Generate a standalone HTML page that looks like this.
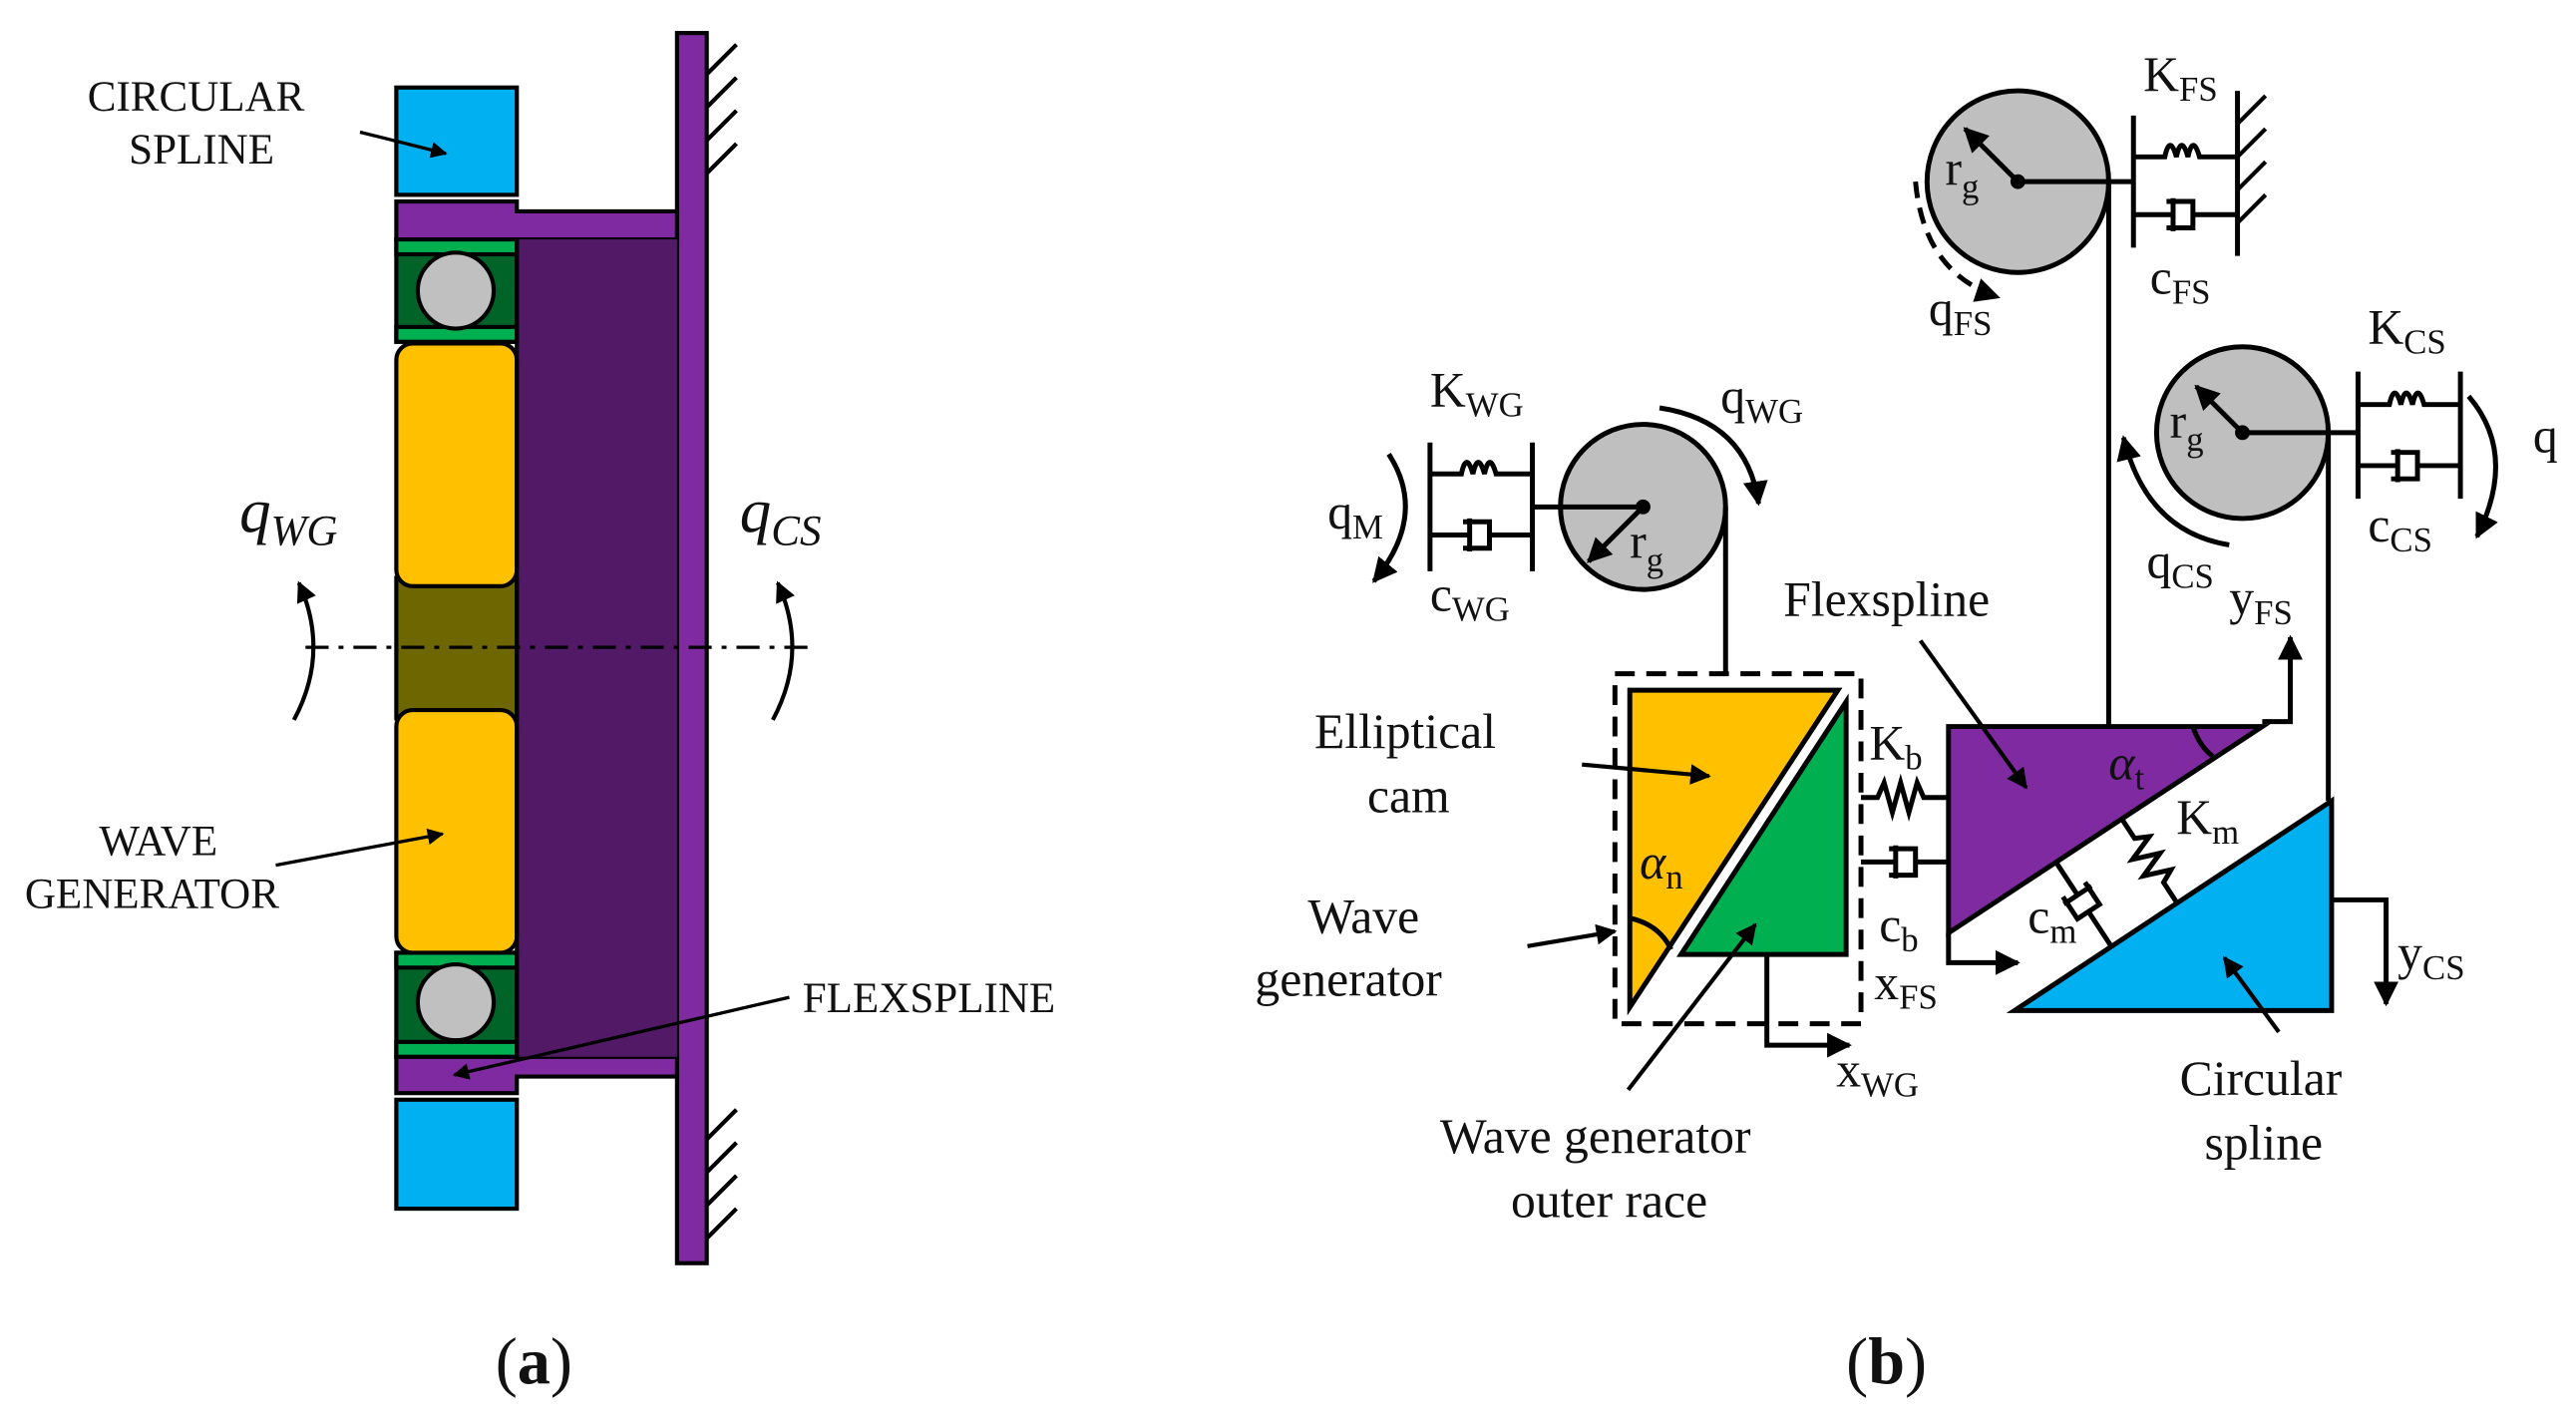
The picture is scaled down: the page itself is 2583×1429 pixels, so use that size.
<!DOCTYPE html>
<html><head><meta charset="utf-8"><style>
html,body{margin:0;padding:0;background:#fff}
svg{display:block}
text{font-family:"Liberation Serif",serif;fill:#111}
</style></head><body>
<svg width="2583" height="1429" viewBox="0 0 1560 863" preserveAspectRatio="none" xmlns="http://www.w3.org/2000/svg">
<defs>
<marker id="ah" viewBox="0 0 10 10" refX="9" refY="5" markerWidth="5" markerHeight="5" orient="auto-start-reverse"><path d="M0,0 L10,5 L0,10 z" fill="#000"/></marker>
</defs>
<g stroke="#000" stroke-width="2.5">
<!-- panel a -->
<rect x="410" y="20" width="18" height="745" fill="#7F2AA0"/>
<path d="M240,122 H313 V128 H410 V145 H240 Z" fill="#7F2AA0"/>
<path d="M240,640 H410 V652 H313 V662 H240 Z" fill="#7F2AA0"/>
<rect x="313" y="145" width="97" height="495" fill="#521A66" stroke="none"/>
<rect x="240" y="53" width="73" height="65" fill="#00B0F0"/>
<rect x="240" y="666" width="73" height="66" fill="#00B0F0"/>
<rect x="240" y="145" width="73" height="62" fill="#006428"/>
<rect x="240" y="145" width="73" height="9" fill="#00B050"/>
<rect x="240" y="198" width="73" height="9" fill="#00B050"/>
<circle cx="276" cy="176" r="23" fill="#C0C0C0"/>
<rect x="240" y="577" width="73" height="63" fill="#006428"/>
<rect x="240" y="577" width="73" height="9" fill="#00B050"/>
<rect x="240" y="631" width="73" height="9" fill="#00B050"/>
<circle cx="276" cy="607" r="23" fill="#C0C0C0"/>
<rect x="240" y="350" width="73" height="85" fill="#6E6600"/>
<rect x="240" y="208" width="73" height="147" rx="10" fill="#FFC000"/>
<rect x="240" y="430" width="73" height="147" rx="10" fill="#FFC000"/>
<line x1="313" y1="145" x2="313" y2="640"/>
<g stroke-width="2.5">
<line x1="428" y1="45" x2="446" y2="27"/><line x1="428" y1="65" x2="446" y2="47"/><line x1="428" y1="85" x2="446" y2="67"/><line x1="428" y1="105" x2="446" y2="87"/>
<line x1="428" y1="690" x2="446" y2="672"/><line x1="428" y1="710" x2="446" y2="692"/><line x1="428" y1="730" x2="446" y2="712"/><line x1="428" y1="750" x2="446" y2="732"/>
</g>
<line x1="185" y1="392" x2="495" y2="392" stroke-width="2" stroke-dasharray="14,6,3,6"/>
<path d="M178,436 Q200,395 181,353" fill="none" marker-end="url(#ah)"/>
<path d="M468,436 Q490,395 471,353" fill="none" marker-end="url(#ah)"/>
<line x1="166" y1="48" x2="212" y2="62" transform="translate(0,0)" stroke="none"/>
<line x1="168" y1="46" x2="0" y2="0" stroke="none"/>
<line x1="168" y1="48" x2="168" y2="48" stroke="none"/>
<line x1="166" y1="48" x2="166" y2="48" stroke="none"/>
<line x1="167" y1="48" x2="167" y2="48" stroke="none"/>
<line x1="167" y1="49" x2="167" y2="49" stroke="none"/>
<line x1="167" y1="49" x2="167" y2="49" stroke="none"/>
<line x1="167" y1="50" x2="167" y2="50" stroke="none"/>
<line x1="167" y1="50" x2="167" y2="50" stroke="none"/>
<line x1="167" y1="50" x2="167" y2="50" stroke="none"/>
<line x1="167" y1="50" x2="167" y2="50" stroke="none"/>
<line x1="167" y1="50" x2="167" y2="50" stroke="none"/>
<line x1="218" y1="80" x2="270" y2="93" marker-end="url(#ah)" stroke-width="2"/>
<line x1="167" y1="524" x2="268" y2="505" marker-end="url(#ah)" stroke-width="2"/>
<line x1="478" y1="604" x2="275" y2="651" marker-end="url(#ah)" stroke-width="2"/>
</g>
<g font-size="26">
<text x="53" y="67">CIRCULAR</text><text x="78" y="99">SPLINE</text>
<text x="60" y="518">WAVE</text><text x="15" y="550">GENERATOR</text>
<text x="486" y="613">FLEXSPLINE</text>
</g>
<text x="145" y="322" font-size="38" font-style="italic">q<tspan font-size="26" dy="8">WG</tspan></text>
<text x="448" y="322" font-size="38" font-style="italic">q<tspan font-size="26" dy="8">CS</tspan></text>
<text x="300" y="838" font-size="40">(<tspan font-weight="bold">a</tspan>)</text>
<text x="1118" y="838" font-size="40">(<tspan font-weight="bold">b</tspan>)</text>

<!-- panel b -->
<g stroke="#000" stroke-width="3" fill="none">
<circle cx="995" cy="307" r="50" fill="#BFBFBF"/>
<circle cx="1222" cy="110" r="55" fill="#BFBFBF"/>
<circle cx="1358" cy="262" r="52" fill="#BFBFBF"/>
<line x1="928" y1="307" x2="995" y2="307"/>
<line x1="995" y1="307" x2="962" y2="340" marker-end="url(#ah)"/>
<line x1="1222" y1="110" x2="1292" y2="110"/>
<line x1="1222" y1="110" x2="1190" y2="78" marker-end="url(#ah)"/>
<line x1="1358" y1="262" x2="1428" y2="262"/>
<line x1="1358" y1="262" x2="1330" y2="234" marker-end="url(#ah)"/>
<circle cx="995" cy="307" r="3" fill="#000"/><circle cx="1222" cy="110" r="3" fill="#000"/><circle cx="1358" cy="262" r="3" fill="#000"/>
<!-- KWG -->
<line x1="866" y1="268" x2="866" y2="346"/><line x1="928" y1="268" x2="928" y2="346"/>
<path d="M866,287 H885 q3,-14 7,0 q3,-14 7,0 q3,-14 7,0 H928"/>
<path d="M866,324 H890 M890,314 V334 M886,316 H902 V332 H886 M902,324 H928"/>
<!-- KFS -->
<line x1="1292" y1="70" x2="1292" y2="150"/><line x1="1355" y1="55" x2="1355" y2="155"/>
<path d="M1292,95 H1311 q3,-14 7,0 q3,-14 7,0 q3,-14 7,0 H1355"/>
<path d="M1292,130 H1316 M1316,120 V140 M1312,122 H1328 V138 H1312 M1328,130 H1355"/>
<path d="M1355,75 L1372,58 M1355,95 L1372,78 M1355,115 L1372,98 M1355,135 L1372,118" stroke-width="2.5"/>
<!-- KCS -->
<line x1="1428" y1="225" x2="1428" y2="302"/><line x1="1490" y1="225" x2="1490" y2="302"/>
<path d="M1428,245 H1447 q3,-14 7,0 q3,-14 7,0 q3,-14 7,0 H1490"/>
<path d="M1428,282 H1452 M1452,272 V292 M1448,274 H1464 V290 H1448 M1464,282 H1490"/>
<!-- ropes -->
<line x1="1045" y1="307" x2="1045" y2="408"/>
<line x1="1277" y1="110" x2="1277" y2="440"/>
<line x1="1410" y1="262" x2="1410" y2="485"/>
<!-- rotation arrows -->
<path d="M841,275 Q865,312 832,352" marker-end="url(#ah)"/>
<path d="M1005,247 Q1058,255 1065,305" marker-end="url(#ah)"/>
<path d="M1160,110 Q1165,165 1210,180" stroke-dasharray="10,6" marker-end="url(#ah)"/>
<path d="M1350,330 Q1300,322 1286,265" marker-end="url(#ah)"/>
<path d="M1495,240 Q1525,275 1500,325" marker-end="url(#ah)"/>
</g>
<!-- triangles -->
<g stroke="#000" stroke-width="3">
<rect x="978" y="408" width="149" height="212" fill="none" stroke-dasharray="12,7"/>
<polygon points="987,418 1113,418 987,610" fill="#FFC000"/>
<polygon points="1118,425 1118,578 1018,578" fill="#00B050"/>
<polygon points="1180,440 1370,440 1180,565" fill="#7F2AA0"/>
<polygon points="1412,485 1412,612 1220,612" fill="#00B0F0"/>
<g fill="none">
<path d="M987,556 Q1005,560 1012,575"/>
<path d="M1328,440 Q1332,452 1340,458"/>
<path d="M1127,483 H1137 l4,-9 l5,18 l5,-18 l5,18 l5,-18 l4,9 H1180"/>
<path d="M1127,522 H1148 M1148,512 V532 M1144,514 H1160 V530 H1144 M1160,522 H1180"/>
<g transform="translate(1285,496) rotate(56.7)">
<path d="M0,0 H14 l4,-8 l6,16 l6,-16 l6,16 l6,-16 l4,8 H61"/>
</g>
<g transform="translate(1245,522) rotate(56.7)">
<path d="M0,0 H24 M24,-10 V10 M20,-8 H36 V8 H20 M36,0 H61"/>
</g>
<!-- coordinate arrows -->
<path d="M1370,437 H1387 V386" marker-end="url(#ah)"/>
<path d="M1412,545 H1445 V608" marker-end="url(#ah)"/>
<path d="M1180,565 V583 H1222" marker-end="url(#ah)"/>
<path d="M1070,578 V633 H1120" marker-end="url(#ah)"/>
<!-- label arrows -->
<line x1="1163" y1="388" x2="1227" y2="477" stroke-width="2.5" marker-end="url(#ah)"/>
<line x1="958" y1="463" x2="1035" y2="470" stroke-width="2.5" marker-end="url(#ah)"/>
<line x1="925" y1="573" x2="978" y2="564" stroke-width="2.5" marker-end="url(#ah)"/>
<line x1="986" y1="660" x2="1063" y2="560" stroke-width="2.5" marker-end="url(#ah)"/>
<line x1="1380" y1="625" x2="1347" y2="580" stroke-width="2.5" marker-end="url(#ah)"/>
</g>
</g>
<g font-size="30">
<text x="866" y="246">K<tspan font-size="21" dy="6">WG</tspan></text>
<text x="866" y="370">c<tspan font-size="21" dy="6">WG</tspan></text>
<text x="804" y="320">q<tspan font-size="21" dy="6">M</tspan></text>
<text x="1042" y="250">q<tspan font-size="21" dy="6">WG</tspan></text>
<text x="987" y="338">r<tspan font-size="21" dy="8">g</tspan></text>
<text x="1178" y="112">r<tspan font-size="21" dy="8">g</tspan></text>
<text x="1314" y="265">r<tspan font-size="21" dy="8">g</tspan></text>
<text x="1298" y="55">K<tspan font-size="21" dy="6">FS</tspan></text>
<text x="1302" y="178">c<tspan font-size="21" dy="6">FS</tspan></text>
<text x="1168" y="197">q<tspan font-size="21" dy="6">FS</tspan></text>
<text x="1434" y="208">K<tspan font-size="21" dy="6">CS</tspan></text>
<text x="1434" y="328">c<tspan font-size="21" dy="6">CS</tspan></text>
<text x="1534" y="274">q</text>
<text x="1300" y="350">q<tspan font-size="21" dy="6">CS</tspan></text>
<text x="1350" y="372">y<tspan font-size="21" dy="6">FS</tspan></text>
<text x="1452" y="587">y<tspan font-size="21" dy="6">CS</tspan></text>
<text x="1135" y="605">x<tspan font-size="21" dy="6">FS</tspan></text>
<text x="1112" y="658">x<tspan font-size="21" dy="6">WG</tspan></text>
<text x="1132" y="460">K<tspan font-size="21" dy="6">b</tspan></text>
<text x="1138" y="570">c<tspan font-size="21" dy="6">b</tspan></text>
<text x="1318" y="505">K<tspan font-size="21" dy="6">m</tspan></text>
<text x="1228" y="565">c<tspan font-size="21" dy="6">m</tspan></text>
<text x="1277" y="472" font-style="italic">α<tspan font-size="21" dy="6" font-style="normal">t</tspan></text>
<text x="993" y="532" font-style="italic">α<tspan font-size="21" dy="6" font-style="normal">n</tspan></text>
<text x="1080" y="373">Flexspline</text>
<text x="796" y="453">Elliptical</text><text x="828" y="492">cam</text>
<text x="792" y="565">Wave</text><text x="760" y="603">generator</text>
<text x="872" y="698">Wave generator</text><text x="915" y="737">outer race</text>
<text x="1320" y="663">Circular</text><text x="1335" y="702">spline</text>
</g>
</svg>
</body></html>
